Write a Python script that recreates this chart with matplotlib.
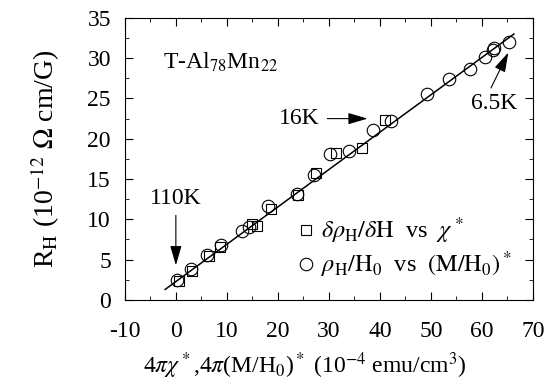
import matplotlib
matplotlib.use('Agg')
import matplotlib.pyplot as plt
from matplotlib.ticker import MultipleLocator

plt.rcParams['font.family'] = ['Liberation Serif', 'DejaVu Serif']
plt.rcParams['mathtext.fontset'] = 'stix'
plt.rcParams['axes.unicode_minus'] = False

# rho_H/H0 vs (M/H0)*  (circles)
circ_x = [0.3, 2.9, 6.2, 8.8, 12.9, 14.4, 18.1, 23.8, 27.1, 30.3, 34.0, 38.7,
          42.2, 49.2, 53.5, 57.7, 60.6, 62.1, 62.3, 65.3]
circ_y = [2.5, 3.8, 5.6, 6.8, 8.6, 9.1, 11.6, 13.2, 15.5, 18.1, 18.5, 21.1,
          22.2, 25.6, 27.4, 28.7, 30.2, 31.0, 31.3, 32.0]

# d rho_H/dH vs chi*  (squares)
sq_x = [0.7, 3.2, 6.5, 8.7, 15.0, 16.0, 18.7, 24.0, 27.5, 31.5, 36.6, 41.0]
sq_y = [2.3, 3.6, 5.4, 6.6, 9.4, 9.2, 11.3, 13.0, 15.7, 18.2, 18.8, 22.3]

# straight line fit
fit_x = [-2.1, 66.3]
fit_y = [1.3, 33.0]

# temperature labels: text position, arrow tail, arrow tip
temp_labels = ['110K', '16K', '6.5K']
label_xy = [(0, 12.6), (24.2, 22.5), (62.4, 24.4)]
tail_xy = [(0, 10.5), (29.7, 22.5), (61.8, 26.3)]
tip_xy = [(0, 4.3), (37.6, 22.5), (65.2, 30.7)]

fig = plt.figure(figsize=(5.55, 3.89), dpi=100)
ax = fig.add_axes([0.225, 0.229, 0.735, 0.725])

ax.plot(fit_x, fit_y, color='black', lw=1.1)
ax.plot(sq_x, sq_y, ls='none', marker='s', ms=7, mfc='none', mec='black', mew=0.8,
        label=r'$\delta\rho_\mathrm{H}/\delta\mathrm{H}$  vs  $\chi^*$')
ax.plot(circ_x, circ_y, ls='none', marker='o', ms=9, mfc='none', mec='black', mew=0.8,
        label=r'$\rho_\mathrm{H}/\mathrm{H}_0$  vs  $(\mathrm{M}/\mathrm{H}_0)^*$')

ax.set_xlim(-10, 70)
ax.set_ylim(0, 35)
ax.xaxis.set_major_locator(MultipleLocator(10))
ax.xaxis.set_minor_locator(MultipleLocator(5))
ax.yaxis.set_major_locator(MultipleLocator(5))
ax.yaxis.set_minor_locator(MultipleLocator(2.5))
ax.tick_params(which='both', direction='in', top=True, right=True, labelsize=17)
ax.tick_params(which='major', length=6)
ax.tick_params(which='minor', length=3)
ax.tick_params(axis='x', which='major', pad=15)
ax.tick_params(axis='y', which='major', pad=10)

ax.set_xlabel(r'4$\pi\chi^*$,4$\pi$(M/H$_0$)$^*$ (10$^{-4}$ emu/cm$^3$)', fontsize=17)
ax.xaxis.set_label_coords(0.44, -0.235, transform=ax.transAxes)
ax.xaxis.label.set_va('center')
ax.set_ylabel(r'R$_\mathrm{H}$ (10$^{-12}$ $\Omega$ cm/G)', fontsize=20, labelpad=18)

ax.text(-2.6, 29.5, r'T-Al$_{78}$Mn$_{22}$', fontsize=17, va='center')

for lab, txy, a, b in zip(temp_labels, label_xy, tail_xy, tip_xy):
    ax.text(txy[0], txy[1], lab, fontsize=17, ha='center', va='center')
    ax.annotate('', xy=b, xytext=a,
                arrowprops=dict(arrowstyle='-|>,head_length=0.75,head_width=0.22',
                                color='black', lw=0.8, mutation_scale=16,
                                shrinkA=0, shrinkB=0))

ax.legend(loc='upper left', bbox_to_anchor=(0.415, 0.30), frameon=False, fontsize=17.5,
          handletextpad=0.1, labelspacing=0.15, borderaxespad=0, borderpad=0,
          handlelength=1.0)

fig.savefig('out.png', dpi=100)
